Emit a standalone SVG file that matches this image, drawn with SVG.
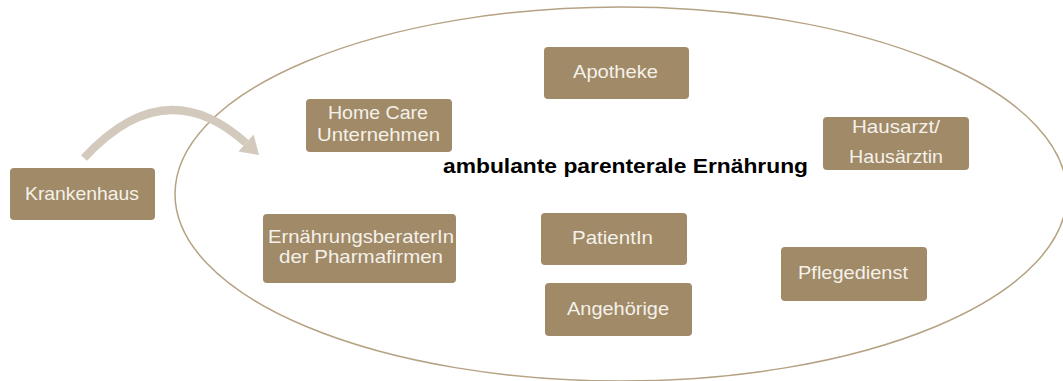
<svg xmlns="http://www.w3.org/2000/svg" width="1063" height="381" viewBox="0 0 1063 381">
  <style>
    .box { fill: #a08a67; }
    .lbl { font-family: "Liberation Sans", Arial, sans-serif; font-size: 18.5px; fill: #f5f1ea; }
    .title { font-family: "Liberation Sans", Arial, sans-serif; font-size: 21px; font-weight: bold; fill: #000; }
    .ring { fill: none; stroke: #b5a283; stroke-width: 1.5; }
    .flow { fill: none; stroke: #d3cabd; stroke-width: 8; }
    .head { fill: #d3cabd; }
  </style>

  <!-- surrounding care setting -->
  <ellipse class="ring" cx="621" cy="194" rx="446" ry="187"/>

  <g id="connectors">
    <path class="flow" d="M84,158 Q165,70 246,143"/>
    <polygon class="head" points="259,155 253.6,134.5 238.4,151.5"/>
  </g>

  <text class="title" x="443" y="173" textLength="365" lengthAdjust="spacingAndGlyphs">ambulante parenterale Ernährung</text>

  <g id="krankenhaus">
    <rect class="box" x="10" y="168" width="145" height="52" rx="4"/>
    <text class="lbl" x="25" y="200" textLength="114" lengthAdjust="spacingAndGlyphs">Krankenhaus</text>
  </g>

  <g id="home-care">
    <rect class="box" x="306" y="99" width="146" height="53" rx="4"/>
    <text class="lbl" x="328" y="119" textLength="100" lengthAdjust="spacingAndGlyphs">Home Care</text>
    <text class="lbl" x="317" y="141" textLength="123" lengthAdjust="spacingAndGlyphs">Unternehmen</text>
  </g>

  <g id="apotheke">
    <rect class="box" x="544" y="47" width="145" height="52" rx="4"/>
    <text class="lbl" x="573" y="78" textLength="85" lengthAdjust="spacingAndGlyphs">Apotheke</text>
  </g>

  <g id="hausarzt">
    <rect class="box" x="823" y="117" width="146" height="53" rx="4"/>
    <text class="lbl" x="852" y="133" textLength="88" lengthAdjust="spacingAndGlyphs">Hausarzt/</text>
    <text class="lbl" x="849" y="163" textLength="94" lengthAdjust="spacingAndGlyphs">Hausärztin</text>
  </g>

  <g id="ernaehrungsberater">
    <rect class="box" x="263" y="214" width="193" height="69" rx="4"/>
    <text class="lbl" x="268" y="243" textLength="186" lengthAdjust="spacingAndGlyphs">ErnährungsberaterIn</text>
    <text class="lbl" x="279" y="263" textLength="164" lengthAdjust="spacingAndGlyphs">der Pharmafirmen</text>
  </g>

  <g id="patient">
    <rect class="box" x="541" y="213" width="146" height="52" rx="4"/>
    <text class="lbl" x="572" y="244" textLength="81" lengthAdjust="spacingAndGlyphs">PatientIn</text>
  </g>

  <g id="angehoerige">
    <rect class="box" x="545" y="283" width="147" height="53" rx="4"/>
    <text class="lbl" x="567" y="315" textLength="102" lengthAdjust="spacingAndGlyphs">Angehörige</text>
  </g>

  <g id="pflegedienst">
    <rect class="box" x="781" y="247" width="146" height="54" rx="4"/>
    <text class="lbl" x="798" y="279" textLength="110" lengthAdjust="spacingAndGlyphs">Pflegedienst</text>
  </g>
</svg>
